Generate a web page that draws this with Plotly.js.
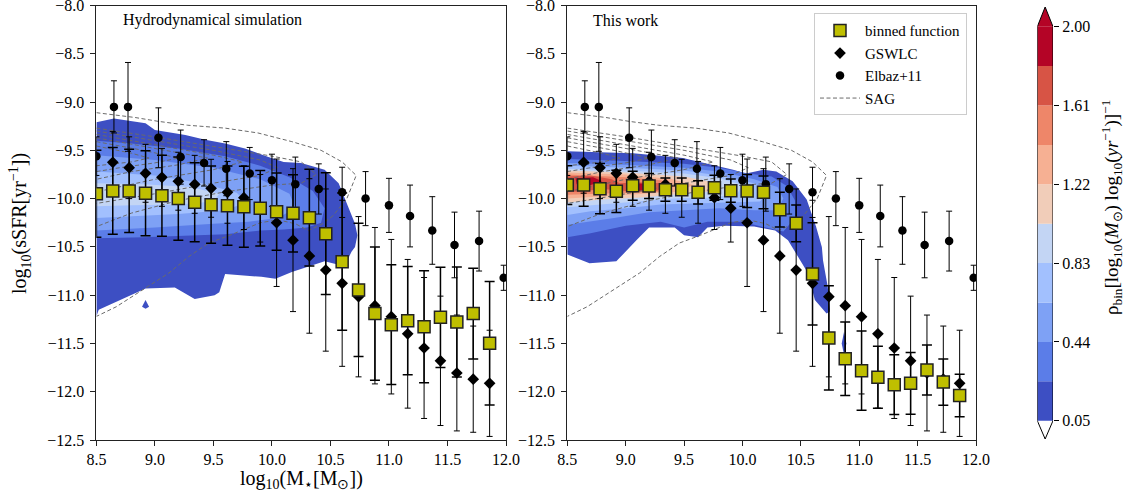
<!DOCTYPE html>
<html><head><meta charset="utf-8">
<script src="https://cdn.plot.ly/plotly-3.0.1.min.js"></script>
<style>body{margin:0;background:#fff}#chart{width:1126px;height:498px}</style>
</head><body><div id="chart"></div><script>
// ---------- observational / model series ----------
const binX = [8.5, 8.64, 8.78, 8.92, 9.06, 9.20, 9.34, 9.48, 9.62, 9.76, 9.90, 10.04, 10.18, 10.32, 10.46, 10.60, 10.74, 10.88, 11.02, 11.16, 11.30, 11.44, 11.58, 11.72, 11.86];
const hydroY = [-9.95, -9.92, -9.92, -9.945, -9.97, -10.0, -10.038, -10.063, -10.073, -10.084, -10.10, -10.135, -10.152, -10.197, -10.363, -10.653, -10.946, -11.19, -11.306, -11.264, -11.327, -11.23, -11.278, -11.19, -11.498];
const hydroErr = [0.45, 0.45, 0.43, 0.44, 0.42, 0.43, 0.41, 0.40, 0.41, 0.42, 0.39, 0.40, 0.40, 0.50, 0.63, 0.71, 0.69, 0.69, 0.62, 0.56, 0.58, 0.52, 0.57, 0.47, 0.64];
const workY = [-9.86, -9.86, -9.897, -9.925, -9.866, -9.87, -9.907, -9.907, -9.935, -9.887, -9.918, -9.921, -9.935, -10.115, -10.256, -10.78, -11.443, -11.658, -11.782, -11.85, -11.927, -11.913, -11.775, -11.90, -12.04];
const workErr = [0.20, 0.22, 0.26, 0.22, 0.15, 0.13, 0.12, 0.12, 0.12, 0.13, 0.12, 0.17, 0.17, 0.18, 0.19, 0.53, 0.54, 0.38, 0.41, 0.32, 0.31, 0.32, 0.26, 0.24, 0.22];

const gswX = [8.64, 8.78, 8.92, 9.06, 9.20, 9.34, 9.48, 9.62, 9.76, 9.90, 10.04, 10.18, 10.32, 10.46, 10.60, 10.74, 10.88, 11.02, 11.16, 11.30, 11.44, 11.58, 11.72, 11.86];
const gswY = [-9.624, -9.68, -9.738, -9.78, -9.82, -9.852, -9.893, -9.935, -9.99, -10.10, -10.25, -10.43, -10.594, -10.74, -10.877, -11.016, -11.109, -11.223, -11.40, -11.547, -11.68, -11.806, -11.87, -11.913];
const gswErr = [0.32, 0.32, 0.30, 0.30, 0.30, 0.30, 0.30, 0.32, 0.33, 0.35, 0.66, 0.74, 0.80, 0.84, 0.86, 0.83, 0.81, 0.80, 0.77, 0.73, 0.67, 0.60, 0.55, 0.55];

const elbX = [8.5, 8.65, 8.77, 9.03, 9.22, 9.42, 9.61, 9.81, 10.0, 10.2, 10.4, 10.6, 10.8, 11.0, 11.18, 11.37, 11.56, 11.77, 11.98];
const elbY = [-9.56, -9.05, -9.05, -9.37, -9.57, -9.63, -9.69, -9.74, -9.81, -9.85, -9.90, -9.935, -10.0, -10.07, -10.18, -10.33, -10.48, -10.44, -10.82];
const elbErr = [0.20, 0.27, 0.46, 0.31, 0.28, 0.24, 0.28, 0.27, 0.27, 0.28, 0.26, 0.26, 0.28, 0.28, 0.32, 0.35, 0.34, 0.31, 0.13];

// ---------- SAG dashed contour lines (same in both panels) ----------
const sagX = [
  [8.5, 8.83, 9.03, 9.28, 9.6, 9.88, 10.17, 10.42, 10.6, 10.72, 10.64, 10.52, 10.42, 10.31, 10.2, 10.05, 9.9, 9.64, 9.46, 9.29, 9.12, 8.89, 8.67, 8.5],
  [8.5, 9.0, 9.5, 10.0, 10.25, 10.38, 10.25, 10.0, 9.6, 9.2, 8.8, 8.5],
  [8.5, 9.0, 9.5, 9.9, 10.05, 9.9, 9.5, 9.0, 8.5],
  [8.5, 9.0, 9.5, 9.75, 9.5, 9.0, 8.5],
  [8.5, 9.0, 9.45, 9.2, 8.8, 8.5],
  [8.5, 8.9, 9.2, 9.0, 8.7, 8.5],
  [8.5, 8.8, 8.95, 8.8, 8.5]
];
const sagY = [
  [-9.11, -9.16, -9.2, -9.24, -9.27, -9.32, -9.41, -9.5, -9.62, -9.76, -10.0, -10.18, -10.27, -10.33, -10.26, -10.22, -10.25, -10.38, -10.46, -10.6, -10.77, -10.95, -11.12, -11.22],
  [-9.27, -9.36, -9.46, -9.56, -9.62, -9.75, -9.84, -9.86, -9.93, -10.02, -10.15, -10.29],
  [-9.30, -9.40, -9.50, -9.60, -9.68, -9.76, -9.84, -9.95, -10.05],
  [-9.335, -9.44, -9.55, -9.62, -9.70, -9.80, -9.93],
  [-9.37, -9.48, -9.58, -9.65, -9.72, -9.80],
  [-9.41, -9.50, -9.58, -9.63, -9.68, -9.72],
  [-9.455, -9.53, -9.58, -9.62, -9.66]
];

// ---------- density levels (colour bar) ----------
const cbLevels = [0.05, 0.245, 0.44, 0.635, 0.83, 1.025, 1.22, 1.415, 1.61, 1.805, 2.00];
const cbColors = ['#3d4fc3', '#5b7de8', '#7ea1f5', '#a2c0fe', '#c3d5f4', '#f1cdb9', '#f6b093', '#ee8669', '#d75445', '#b40426'];
const cbTicks = [0.05, 0.44, 0.83, 1.22, 1.61, 2.00];
const cbTickText = ['0.05', '0.44', '0.83', '1.22', '1.61', '2.00'];

// filled density regions, hydrodynamical simulation (level index -> polygon)
const hydroLevel = [0, 0, 1, 2, 3, 4];
const hydroPolyX = [
  [8.5, 8.65, 8.92, 9.0, 9.26, 9.43, 9.6, 9.77, 9.97, 10.1, 10.25, 10.45, 10.57, 10.65, 10.71, 10.73, 10.71, 10.68, 10.62, 10.45, 10.17, 10.03, 9.91, 9.6, 9.55, 9.51, 9.34, 9.17, 8.92, 8.52, 8.5],
  [8.92, 8.95, 8.92, 8.89],
  [8.5, 8.8, 9.2, 9.6, 9.9, 10.15, 10.35, 10.45, 10.42, 10.3, 10.1, 9.9, 9.6, 9.2, 8.9, 8.5],
  [8.5, 9.0, 9.5, 9.9, 10.15, 10.2, 10.05, 9.8, 9.5, 9.0, 8.5],
  [8.5, 9.0, 9.4, 9.7, 9.78, 9.6, 9.2, 8.8, 8.5],
  [8.5, 8.9, 9.3, 9.55, 9.5, 9.2, 8.8, 8.5]
];
const hydroPolyY = [
  [-9.21, -9.17, -9.22, -9.29, -9.34, -9.39, -9.43, -9.48, -9.57, -9.62, -9.63, -9.70, -9.84, -10.08, -10.26, -10.38, -10.5, -10.55, -10.70, -10.65, -10.76, -10.83, -10.81, -10.78, -10.97, -11.0, -11.04, -10.92, -10.93, -11.15, -11.22],
  [-11.05, -11.12, -11.14, -11.12],
  [-9.40, -9.43, -9.48, -9.56, -9.66, -9.78, -9.92, -10.10, -10.25, -10.30, -10.32, -10.33, -10.37, -10.39, -10.40, -10.41],
  [-9.55, -9.60, -9.68, -9.80, -9.95, -10.10, -10.20, -10.24, -10.26, -10.30, -10.33],
  [-9.72, -9.76, -9.84, -9.94, -10.04, -10.12, -10.16, -10.18, -10.20],
  [-9.84, -9.85, -9.88, -9.95, -10.03, -10.06, -10.07, -10.08]
];

// filled density regions, this work
const workLevel = [0, 0, 1, 2, 3, 4, 5, 6, 7, 8, 9, 9];
const workPolyX = [
  [8.5, 9.065, 9.49, 9.75, 9.92, 10.03, 10.18, 10.29, 10.43, 10.55, 10.63, 10.68, 10.69, 10.73, 10.75, 10.72, 10.62, 10.56, 10.39, 10.28, 10.1, 9.85, 9.7, 9.62, 9.5, 9.42, 9.2, 9.1, 9.0, 8.92, 8.69, 8.5],
  [10.87, 10.85, 10.87, 10.89],
  [8.5, 9.0, 9.5, 9.8, 10.05, 10.25, 10.38, 10.45, 10.45, 10.35, 10.2, 10.0, 9.7, 9.5, 9.3, 9.0, 8.7, 8.5],
  [8.5, 9.0, 9.5, 9.8, 10.1, 10.3, 10.35, 10.3, 10.1, 9.8, 9.5, 9.2, 8.9, 8.5],
  [8.5, 9.0, 9.5, 9.8, 10.1, 10.22, 10.15, 9.9, 9.6, 9.3, 9.0, 8.7, 8.5],
  [8.5, 9.0, 9.5, 9.8, 10.0, 9.95, 9.7, 9.4, 9.1, 8.8, 8.5],
  [8.5, 9.0, 9.5, 9.75, 9.7, 9.4, 9.1, 8.8, 8.5],
  [8.5, 9.0, 9.4, 9.58, 9.45, 9.2, 8.9, 8.5],
  [8.5, 9.0, 9.3, 9.42, 9.3, 9.0, 8.7, 8.5],
  [8.5, 8.7, 8.88, 8.95, 9.1, 9.3, 9.33, 9.25, 9.0, 8.8, 8.6, 8.5],
  [8.57, 8.72, 8.8, 8.7, 8.58],
  [9.05, 9.2, 9.25, 9.12, 9.03]
];
const workPolyY = [
  [-9.51, -9.53, -9.58, -9.65, -9.70, -9.74, -9.70, -9.72, -9.82, -10.01, -10.29, -10.5, -10.64, -10.91, -11.17, -11.19, -11.05, -10.77, -10.43, -10.33, -10.29, -10.28, -10.30, -10.40, -10.38, -10.30, -10.30, -10.42, -10.55, -10.65, -10.67, -10.58],
  [-11.38, -11.5, -11.62, -11.5],
  [-9.59, -9.61, -9.64, -9.68, -9.74, -9.77, -9.87, -10.02, -10.2, -10.34, -10.3, -10.24, -10.24, -10.3, -10.24, -10.28, -10.36, -10.4],
  [-9.63, -9.65, -9.68, -9.72, -9.80, -9.88, -10.0, -10.12, -10.12, -10.10, -10.12, -10.14, -10.2, -10.27],
  [-9.66, -9.68, -9.71, -9.76, -9.84, -9.93, -10.03, -10.04, -10.05, -10.06, -10.10, -10.13, -10.17],
  [-9.69, -9.71, -9.74, -9.79, -9.86, -9.96, -9.99, -10.0, -10.03, -10.06, -10.09],
  [-9.71, -9.73, -9.77, -9.83, -9.93, -9.96, -9.99, -10.01, -10.04],
  [-9.73, -9.75, -9.80, -9.86, -9.93, -9.95, -9.97, -10.0],
  [-9.75, -9.78, -9.81, -9.87, -9.93, -9.94, -9.95, -9.96],
  [-9.77, -9.76, -9.80, -9.84, -9.83, -9.84, -9.88, -9.93, -9.92, -9.90, -9.93, -9.93],
  [-9.79, -9.78, -9.82, -9.86, -9.85],
  [-9.84, -9.845, -9.89, -9.92, -9.89]
];

// ---------- build traces ----------
const W = 1126, H = 498;
const FONT = 'Liberation Serif, Times New Roman, serif';
const traces = [];

function addPolys(px, py, lv, xa, ya) {
  for (let i = 0; i < px.length; i++) {
    traces.push({
      type: 'scatter', mode: 'lines', x: px[i].concat([px[i][0]]), y: py[i].concat([py[i][0]]),
      fill: 'toself', fillcolor: cbColors[lv[i]], line: {width: 0, color: cbColors[lv[i]]},
      hoverinfo: 'skip', showlegend: false, xaxis: xa, yaxis: ya
    });
  }
}
function addSeries(xa, ya, binnedY, binnedErr, legend) {
  for (let k = 0; k < sagX.length; k++) {
    traces.push({
      type: 'scatter', mode: 'lines', x: sagX[k], y: sagY[k], xaxis: xa, yaxis: ya,
      line: {color: '#6a6a6a', width: 1, dash: '4px,2.5px'},
      name: 'SAG', showlegend: legend && k === 0, legendrank: 4, hoverinfo: 'skip'
    });
  }
  traces.push({
    type: 'scatter', mode: 'markers', x: elbX, y: elbY, xaxis: xa, yaxis: ya,
    error_y: {type: 'data', array: elbErr, symmetric: true, color: '#000', thickness: 1, width: 3},
    marker: {symbol: 'circle', size: 8.5, color: '#000'},
    name: 'Elbaz+11', showlegend: legend, legendrank: 3
  });
  traces.push({
    type: 'scatter', mode: 'markers', x: gswX, y: gswY, xaxis: xa, yaxis: ya,
    error_y: {type: 'data', array: gswErr, symmetric: true, color: '#000', thickness: 1, width: 3},
    marker: {symbol: 'diamond', size: 9, color: '#000'},
    name: 'GSWLC', showlegend: legend, legendrank: 2
  });
  traces.push({
    type: 'scatter', mode: 'markers', x: binX, y: binnedY, xaxis: xa, yaxis: ya,
    error_y: {type: 'data', array: binnedErr, symmetric: true, color: '#000', thickness: 1.5, width: 5},
    marker: {symbol: 'square', size: 12, color: '#bfbf00', line: {color: '#222', width: 1.5}},
    name: 'binned function', showlegend: legend, legendrank: 1
  });
}

addPolys(hydroPolyX, hydroPolyY, hydroLevel, 'x', 'y');
addSeries('x', 'y', hydroY, hydroErr, false);
addPolys(workPolyX, workPolyY, workLevel, 'x2', 'y2');
addSeries('x2', 'y2', workY, workErr, true);

// colour bar drawn in its own small axis
const cbBottomPx = 420.7, cbTopPx = 26.7, cbTipTop = 7, cbTipBot = 439;
const cbScale = (cbBottomPx - cbTopPx) / (cbLevels[cbLevels.length - 1] - cbLevels[0]);
const cbMin = cbLevels[0] - (cbTipBot - cbBottomPx) / cbScale;
const cbMax = cbLevels[cbLevels.length - 1] + (cbTopPx - cbTipTop) / cbScale;
const lo = cbLevels[0], hi = cbLevels[cbLevels.length - 1];
traces.push({
  type: 'bar', x: cbColors.map(() => 0), base: cbLevels.slice(0, -1),
  y: cbLevels.slice(1).map((v, i) => v - cbLevels[i]), width: cbColors.map(() => 1),
  marker: {color: cbColors, line: {width: 0}}, xaxis: 'x3', yaxis: 'y3', showlegend: false, hoverinfo: 'skip'
});
traces.push({
  type: 'scatter', mode: 'lines', x: [-0.5, 0, 0.5, -0.5], y: [hi, cbMax, hi, hi],
  fill: 'toself', fillcolor: cbColors[cbColors.length - 1], line: {width: 0},
  xaxis: 'x3', yaxis: 'y3', showlegend: false, hoverinfo: 'skip'
});
traces.push({
  type: 'scatter', mode: 'lines', x: [-0.5, -0.5, 0, 0.5, 0.5, 0, -0.5], y: [lo, hi, cbMax, hi, lo, cbMin, lo],
  line: {width: 1, color: '#000'}, xaxis: 'x3', yaxis: 'y3', showlegend: false, hoverinfo: 'skip'
});

function mainX(d0, d1) {
  return {domain: [d0 / W, d1 / W], range: [8.5, 12.0], tickvals: [8.5, 9.0, 9.5, 10.0, 10.5, 11.0, 11.5, 12.0],
    tickformat: '.1f', ticks: 'outside', ticklen: 5, tickwidth: 1, tickcolor: '#222', showline: true, mirror: true,
    linecolor: '#222', linewidth: 1, showgrid: false, zeroline: false, fixedrange: true, ticklabeloverflow: 'allow',
    tickfont: {family: FONT, size: 16, color: '#000'}};
}
function mainY(anchor) {
  return {domain: [1 - 440 / H, 1 - 5.5 / H], range: [-12.5, -8.0], tickvals: [-12.5, -12, -11.5, -11, -10.5, -10, -9.5, -9, -8.5, -8],
    tickformat: '.1f', ticks: 'outside', ticklen: 5, tickwidth: 1, tickcolor: '#222', showline: true, mirror: true,
    linecolor: '#222', linewidth: 1, showgrid: false, zeroline: false, anchor: anchor, fixedrange: true,
    ticklabeloverflow: 'allow', ticklabelstandoff: 3, tickfont: {family: FONT, size: 16, color: '#000'}};
}

const layout = {
  width: W, height: H, margin: {l: 0, r: 0, t: 0, b: 0}, paper_bgcolor: '#fff', plot_bgcolor: '#fff',
  font: {family: FONT, size: 16, color: '#000'},
  xaxis: Object.assign(mainX(96.4, 506), {anchor: 'y'}),
  yaxis: mainY('x'),
  xaxis2: Object.assign(mainX(567.3, 976), {anchor: 'y2'}),
  yaxis2: mainY('x2'),
  xaxis3: {domain: [1037.3 / W, 1053 / W], range: [-0.5, 0.5], visible: false, anchor: 'y3', fixedrange: true},
  yaxis3: {domain: [1 - cbTipBot / H, 1 - cbTipTop / H], range: [cbMin, cbMax], anchor: 'x3', side: 'right',
    tickvals: cbTicks, ticktext: cbTickText, ticks: 'outside', ticklen: 5, tickcolor: '#000', showline: false,
    showgrid: false, zeroline: false, fixedrange: true, ticklabeloverflow: 'allow', tickfont: {family: FONT, size: 16, color: '#000'}},
  barmode: 'overlay',
  showlegend: true,
  legend: {x: 967 / W, y: 1 - 13.3 / H, xanchor: 'right', yanchor: 'top', bgcolor: 'rgba(255,255,255,0.85)',
    bordercolor: '#cccccc', borderwidth: 1, font: {family: FONT, size: 15, color: '#000'}, itemwidth: 40,
    traceorder: 'normal'},
  annotations: [
    {text: 'Hydrodynamical simulation', xref: 'paper', yref: 'paper', x: 121 / W, y: 1 - 20 / H, xanchor: 'left', yanchor: 'middle', showarrow: false, font: {family: FONT, size: 16}},
    {text: 'This work', xref: 'paper', yref: 'paper', x: 591 / W, y: 1 - 20 / H, xanchor: 'left', yanchor: 'middle', showarrow: false, font: {family: FONT, size: 16}},
    {text: 'log<sub>10</sub>(sSFR[yr<sup>−1</sup>])', xref: 'paper', yref: 'paper', x: 20 / W, y: 1 - 224 / H, textangle: -90, xanchor: 'center', yanchor: 'middle', showarrow: false, font: {family: FONT, size: 20}},
    {text: 'log<sub>10</sub>(M<sub>⋆</sub>[M<sub>⊙</sub>])', xref: 'paper', yref: 'paper', x: 301 / W, y: 1 - 479 / H, xanchor: 'center', yanchor: 'middle', showarrow: false, font: {family: FONT, size: 20}},
    {text: 'ρ<sub>bin</sub>[log<sub>10</sub>(<i>M</i><sub>⊙</sub>) log<sub>10</sub>(<i>yr</i><sup>−1</sup>)]<sup>−1</sup>', xref: 'paper', yref: 'paper', x: 1111 / W, y: 1 - 208 / H, textangle: -90, xanchor: 'center', yanchor: 'middle', showarrow: false, font: {family: FONT, size: 19}}
  ]
};

Plotly.newPlot('chart', traces, layout, {staticPlot: true, displayModeBar: false});
</script></body></html>
